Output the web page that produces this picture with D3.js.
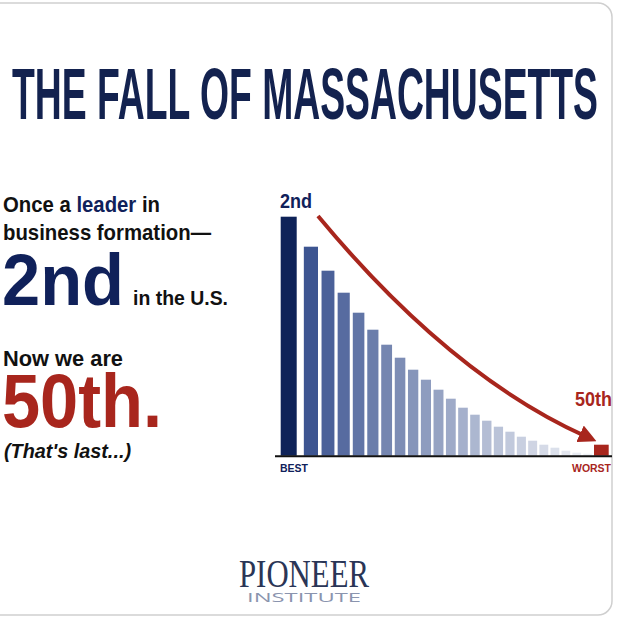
<!DOCTYPE html><html><head><meta charset="utf-8">
<script src="https://cdn.jsdelivr.net/npm/d3@7"></script>
<style>body{margin:0;background:#fff}</style></head><body>
<script>
const ranks = d3.range(1,26);
const values = [239,209,185,163,143,126,111,98,86,76,66,57,48,41,35,29,24,19,15,11,8,5,3,2,11];
const labels = {best:"BEST", worst:"WORST", first:"2nd", last:"50th"};
const W=618,H=620;
const svg=d3.select("body").append("svg").attr("width",W).attr("height",H);
svg.append("rect").attr("x",-20).attr("y",3).attr("width",632).attr("height",612).attr("rx",14)
  .attr("fill","#fff").attr("stroke","#cfcfcf").attr("stroke-width",1.5);
const navy="#10215a", red="#a8261d";
const cond="'Liberation Sans','Arial',sans-serif";
function txt(t,x,y,size,fill,opts={}){
  const e=svg.append("text").attr("x",x).attr("y",y).attr("font-family",opts.family||cond)
   .attr("font-size",size).attr("font-weight",opts.weight||"bold").attr("fill",fill).text(t);
  if(opts.len){e.attr("textLength",opts.len).attr("lengthAdjust","spacingAndGlyphs");}
  if(opts.anchor)e.attr("text-anchor",opts.anchor);
  if(opts.style)e.attr("font-style",opts.style);
  return e;
}
txt("THE FALL OF MASSACHUSETTS",12,119,72,"#13224f",{len:586});
const l1=svg.append("text").attr("x",3).attr("y",212).attr("font-family",cond).attr("font-size",22)
  .attr("font-weight","bold").attr("fill","#111").attr("textLength",157).attr("lengthAdjust","spacingAndGlyphs");
l1.append("tspan").text("Once a ");
l1.append("tspan").attr("fill",navy).text("leader");
l1.append("tspan").text(" in");
txt("business formation—",3,240,22,"#111",{len:208});
txt("2nd",2,305,72,navy,{len:122});
txt("in the U.S.",133,305,21,"#111",{len:95});
txt("Now we are",3,366,22,"#111",{len:120});
txt("50th.",2,427,76,red,{len:160});
txt("(That's last...)",4,458,20,"#111",{len:127,style:"italic"});
const base=455.7;
const x=d3.scalePow().exponent(0.82).domain([0,24]).range([280.7,594]);
const y=d3.scaleLinear().domain([0,239]).range([base,base-239]);
const col=d3.scalePow().exponent(0.7).domain([1,23]).range(["#3d5591","#eef0f5"]).interpolate(d3.interpolateRgb);
svg.selectAll("rect.bar").data(values).enter().append("rect").attr("class","bar")
  .attr("x",(d,i)=>x(i))
  .attr("width",(d,i)=>i==24?14.7:(i==0?16:(x(i+1)-x(i))*0.8))
  .attr("y",d=>y(d)).attr("height",d=>base-y(d))
  .attr("fill",(d,i)=>i==24?red:(i==0?"#0e2258":col(i)));
svg.append("line").attr("x1",275).attr("x2",612).attr("y1",base+0.5).attr("y2",base+0.5).attr("stroke","#111").attr("stroke-width",2);
txt(labels.first,280,208,20,navy,{len:32});
txt(labels.last,612,406,20,red,{anchor:"end",len:37});
txt(labels.best,280,472,10,navy,{len:28});
txt(labels.worst,611,472,10,red,{anchor:"end",len:39});
svg.append("defs").append("marker").attr("id","ah").attr("viewBox","0 0 10 10").attr("refX",3).attr("refY",5)
 .attr("markerWidth",4.5).attr("markerHeight",4.5).attr("orient","auto")
 .append("path").attr("d","M0,0L10,5L0,10z").attr("fill",red);
svg.append("path").attr("d","M318,216 Q450,375 585,436").attr("fill","none").attr("stroke",red)
 .attr("stroke-width",4).attr("marker-end","url(#ah)");
txt("PIONEER",239,587,40,"#2a3556",{family:"'Liberation Serif','DejaVu Serif',serif",weight:"normal",len:130});
txt("INSTITUTE",247,602,12,"#8a94ae",{family:"'Open Sans',sans-serif",weight:"normal",len:114});
</script></body></html>
